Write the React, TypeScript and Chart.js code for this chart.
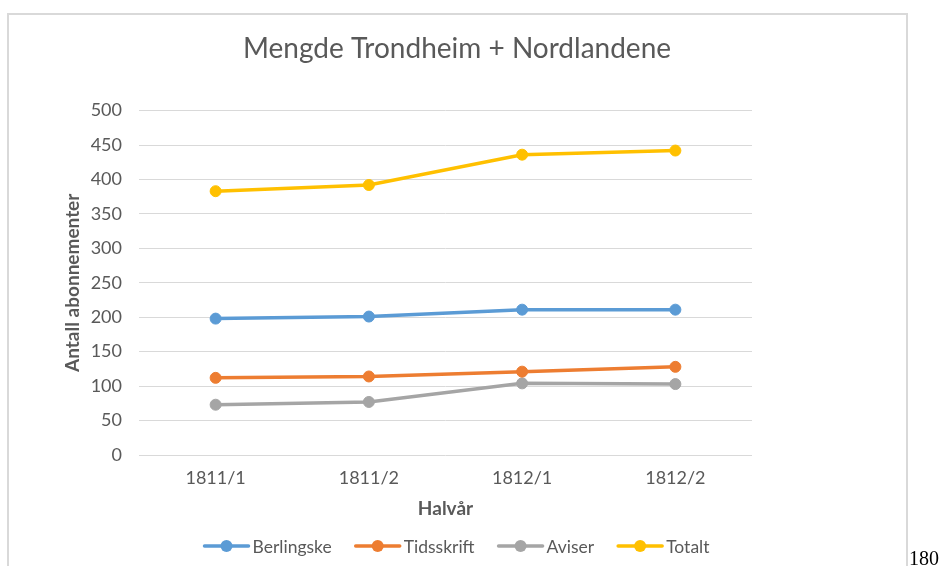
import React, { useEffect, useRef } from "react";
import { Chart, registerables } from "chart.js";

Chart.register(...registerables);

const categories = ["1811/1", "1811/2", "1812/1", "1812/2"];
const berlingske = [198, 201, 211, 211];
const tidsskrift = [112, 114, 121, 128];
const aviser = [73, 77, 104, 103];
const totalt = [383, 392, 436, 442];
const seriesNames = ["Berlingske", "Tidsskrift", "Aviser", "Totalt"];
const seriesColors = ["#5B9BD5", "#ED7D31", "#A5A5A5", "#FFC000"];
const yMin = 0;
const yMax = 500;
const yStep = 50;
const titleText = "Mengde Trondheim + Nordlandene";
const yTitleText = "Antall abonnementer";
const xTitleText = "Halvår";
const pageNumber = "180";

const FONT = "Lato, 'Open Sans', sans-serif";
const TEXT = "#595959";
const W = 941;
const H = 566;

const lineLegend = {
  id: "lineLegend",
  afterDraw(chart: any) {
    const ctx = chart.ctx;
    const pad = chart.options.layout.padding;
    ctx.save();
    ctx.font = `17.5px ${FONT}`;
    const lineLen = 44;
    const gapText = 4;
    const gapItem = 24;
    const items = chart.data.datasets.map((ds: any) => ({
      label: ds.label,
      color: ds.borderColor,
      w: ctx.measureText(ds.label).width,
    }));
    const total =
      items.reduce((s: number, it: any) => s + lineLen + gapText + it.w, 0) +
      gapItem * (items.length - 1);
    const cx = (pad.left + chart.width - pad.right) / 2;
    let x = cx - total / 2;
    const y = chart.height - 20;
    for (const it of items) {
      ctx.strokeStyle = it.color;
      ctx.lineWidth = 3.5;
      ctx.lineCap = "round";
      ctx.beginPath();
      ctx.moveTo(x, y);
      ctx.lineTo(x + lineLen, y);
      ctx.stroke();
      ctx.fillStyle = it.color;
      ctx.beginPath();
      ctx.arc(x + lineLen / 2, y, 6, 0, Math.PI * 2);
      ctx.fill();
      ctx.fillStyle = TEXT;
      ctx.textBaseline = "middle";
      ctx.textAlign = "left";
      ctx.fillText(it.label, x + lineLen + gapText, y + 1);
      x += lineLen + gapText + it.w + gapItem;
    }
    ctx.restore();
  },
};

export default function App() {
  const ref = useRef<HTMLCanvasElement | null>(null);

  useEffect(() => {
    if (!ref.current) return;
    const seriesData = [berlingske, tidsskrift, aviser, totalt];
    const chart = new Chart(ref.current, {
      type: "line",
      data: {
        labels: categories,
        datasets: seriesNames.map((name, i) => ({
          label: name,
          data: seriesData[i],
          borderColor: seriesColors[i],
          backgroundColor: seriesColors[i],
          pointBackgroundColor: seriesColors[i],
          pointBorderColor: seriesColors[i],
          borderWidth: 3.5,
          pointRadius: 5.5,
          pointBorderWidth: 1,
          tension: 0,
          fill: false,
        })),
      },
      options: {
        responsive: false,
        animation: false,
        devicePixelRatio: 1,
        layout: { padding: { left: 7, right: 34, top: 14, bottom: 41 } },
        plugins: {
          legend: { display: false },
          tooltip: { enabled: false },
          title: {
            display: true,
            text: titleText,
            color: TEXT,
            font: { family: FONT, size: 28, weight: "normal" },
            padding: { top: 18, bottom: 45 },
          },
        },
        scales: {
          x: {
            type: "category",
            offset: true,
            grid: { display: false, drawTicks: false },
            border: { display: false },
            ticks: { color: TEXT, font: { family: FONT, size: 18 }, padding: 12 },
            title: {
              display: true,
              text: xTitleText,
              color: TEXT,
              font: { family: FONT, size: 19, weight: "bold" },
              padding: { top: 0, bottom: 5 },
            },
            afterFit: (s: any) => {
              s.height = 70;
            },
          },
          y: {
            type: "linear",
            min: yMin,
            max: yMax,
            ticks: {
              stepSize: yStep,
              color: TEXT,
              font: { family: FONT, size: 18 },
              padding: 17,
            },
            grid: { color: "#D9D9D9", lineWidth: 1, drawTicks: false },
            border: { display: false },
            title: {
              display: true,
              text: yTitleText,
              color: TEXT,
              font: { family: FONT, size: 19, weight: "bold" },
              padding: { top: 54, bottom: 0 },
            },
            afterFit: (s: any) => {
              s.width = 132;
            },
          },
          y2: {
            type: "linear",
            position: "right",
            display: true,
            grid: { display: false, drawTicks: false },
            ticks: { display: false },
            border: { display: false },
            afterFit: (s: any) => {
              s.width = 155;
            },
          },
        },
      },
      plugins: [lineLegend],
    } as any);
    return () => chart.destroy();
  }, []);

  return (
    <div style={{ position: "fixed", left: 0, top: 0, width: W, height: H, background: "#fff", overflow: "hidden" }}>
      <div
        style={{
          position: "absolute",
          left: 7,
          top: 13,
          width: 897,
          height: 600,
          border: "2px solid #D9D9D9",
        }}
      />
      <canvas
        ref={ref}
        width={W}
        height={H}
        style={{ position: "absolute", left: 0, top: 0, width: W, height: H }}
      />
      <span
        style={{
          position: "absolute",
          left: 909,
          top: 548,
          fontFamily: "'Liberation Serif', 'Times New Roman', serif",
          fontSize: 20,
          lineHeight: "20px",
          color: "#000",
        }}
      >
        {pageNumber}
      </span>
    </div>
  );
}
